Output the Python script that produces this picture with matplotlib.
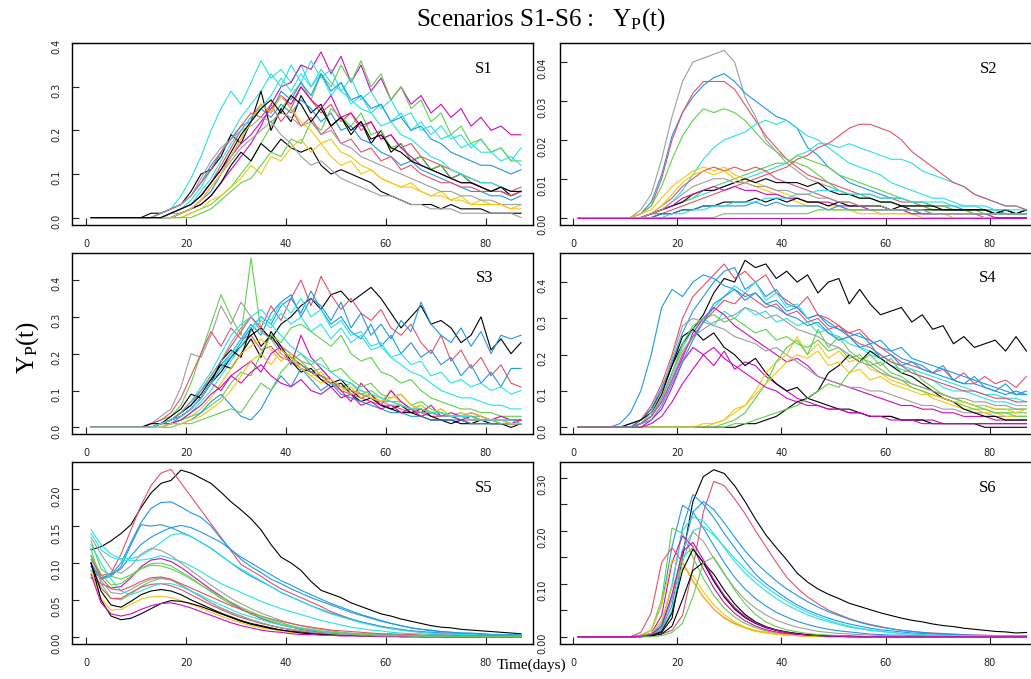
import numpy as np
import matplotlib
matplotlib.use("Agg")
import matplotlib.pyplot as plt

# R default palette, keyed by short codes
PALETTE = {'k': '#000000', 'r': '#DF536B', 'g': '#61D04F', 'b': '#2297E6',
           'c': '#28E2E5', 'm': '#CD0BBC', 'y': '#F5C710', 'a': '#9E9E9E'}

DAYS = np.arange(1, 88, 2)  # every other day, 1..87
X_TICKS = [0, 20, 40, 60, 80]

# ---- S1 (units of 0.01) ----
S1_UNIT = 0.01
S1_COLORS = ['c', 'm', 'g', 'c', 'k', 'k', 'a', 'r', 'b', 'y', 'g', 'm', 'b', 'r', 'a', 'c', 'y', 'k']
S1_VALUES = [
    [0,0,0,0,0,0, 0,1,2,5,9,14,20,25,29,26, 31,36,32,34,31,35,30,33,28,31, 26,28,24,26,22,24,20,22,19,21, 18,19,16,18,15,16,13,16],
    [0,0,0,0,0,0, 0,0,0,1,2,3,5,8,11,14, 17,21,26,30,31,35,34,38,33,37, 31,35,29,32,27,30,26,28,24,26, 23,25,21,23,20,21,19,19],
    [0,0,0,0,0,0, 0,0,0,0,1,2,3,5,7,10, 13,17,21,25,28,31,27,33,30,35, 31,36,30,33,27,30,25,27,22,24, 19,21,17,18,15,16,13,13],
    [0,0,0,0,0,0, 0,0,1,2,4,7,11,15,19,23, 26,29,33,30,35,31,36,32,34,29, 32,27,29,25,27,23,24,20,21,18, 19,16,17,15,15,13,14,12],
    [0,0,0,0,0,0, 1,1,2,3,6,10,11,14,19,17, 22,29,20,25,22,28,24,26,21,23, 19,22,17,20,15,17,13,14,11,12, 9,10,8,7,6,7,5,6],
    [0,0,0,0,0,0, 0,0,0,1,2,3,5,8,12,15, 13,17,15,18,16,15,16,12,10,11, 10,9,8,6,5,4,3,3,3,2, 3,2,2,2,1,1,1,1],
    [0,0,0,0,0,0, 0,0,1,1,2,4,7,10,13,16, 18,20,22,19,17,14,12,13,11,9, 8,7,6,5,5,4,3,3,2,2, 2,1,1,1,1,1,1,0],
    [0,0,0,0,0,0, 0,0,1,2,3,5,8,12,16,20, 23,26,24,28,25,30,27,24,26,22, 24,20,22,18,19,16,17,14,13,12, 11,10,9,8,8,7,6,7],
    [0,0,0,0,0,0, 0,1,2,3,5,8,12,15,18,21, 22,25,23,26,24,27,25,22,24,20, 21,18,17,15,14,12,13,11,10,9, 8,7,6,6,5,5,4,5],
    [0,0,0,0,0,0, 0,0,0,0,1,2,4,5,7,9, 12,10,14,13,16,18,15,17,14,12, 13,10,11,9,8,7,8,6,5,6, 4,5,3,4,3,3,2,3],
    [0,0,0,0,0,0, 0,0,0,0,0,1,2,4,6,8, 9,12,15,14,18,17,22,20,25,23, 21,24,19,20,16,17,13,14,11,12, 9,10,8,7,6,6,5,6],
    [0,0,0,0,0,0, 0,0,1,2,3,5,8,11,14,17, 19,22,25,28,26,30,27,25,28,23, 24,21,22,18,19,16,14,12,11,10, 9,8,8,7,6,6,5,6],
    [0,0,0,0,0,0, 0,0,0,1,2,4,6,10,14,18, 22,26,24,29,27,31,28,33,29,31, 27,28,25,26,22,23,20,21,18,17, 15,14,13,12,12,11,10,11],
    [0,0,0,0,0,0, 0,1,2,3,5,8,11,15,18,21, 24,23,26,22,25,21,23,19,21,17, 18,15,16,13,14,11,12,10,9,8, 8,7,7,6,6,6,5,6],
    [0,0,0,0,0,0, 0,1,2,3,5,9,13,16,18,20, 21,23,22,24,23,21,22,19,20,17, 16,14,13,12,11,10,9,8,7,6, 6,5,5,4,4,3,3,3],
    [0,0,0,0,0,0, 0,0,1,2,3,6,9,13,17,20, 23,25,28,32,29,33,30,34,31,29, 27,25,24,21,22,19,18,16,14,13, 11,10,9,8,8,7,6,6],
    [0,0,0,0,0,0, 0,0,0,1,2,4,7,10,14,18, 22,26,24,28,25,22,20,17,18,15, 14,12,11,9,8,7,7,6,5,5, 4,4,3,3,3,3,2,2],
    [0,0,0,0,0,0, 0,0,1,2,3,5,8,11,15,19, 22,25,27,24,28,26,22,25,21,23, 20,22,18,19,16,15,13,12,11,10, 9,8,8,7,6,7,6,6],
]

# ---- S2 (units of 0.001) ----
S2_UNIT = 0.001
S2_COLORS = ['a', 'b', 'r', 'g', 'c', 'c', 'r', 'g', 'y', 'r', 'k', 'y', 'm', 'k', 'b', 'c', 'g', 'a', 'm']
S2_VALUES = [
    [0,0,0,0,0,0, 2,6,15,26,35,40,41,42,43,40, 31,26,20,17,14,12,10,9,8,7, 6,6,5,4,4,3,3,3,2,2, 2,2,1,1,1,1,1,1],
    [0,0,0,0,0,0, 1,4,11,21,27,31,34,36,37,35, 32,30,28,26,25,23,18,16,13,11, 9,8,7,6,5,5,4,4,3,3, 3,2,2,2,2,1,1,1],
    [0,0,0,0,0,0, 1,3,10,20,27,32,35,35,35,33, 29,25,21,18,15,13,11,10,9,8, 7,6,6,5,5,4,4,3,3,3, 2,2,2,2,1,1,1,1],
    [0,0,0,0,0,0, 1,3,8,15,21,25,28,27,28,27, 25,22,19,17,15,14,13,11,9,7, 6,5,5,4,4,3,3,3,2,2, 2,2,1,1,1,1,1,1],
    [0,0,0,0,0,0, 0,1,2,4,7,11,15,18,20,21, 22,24,25,24,25,23,21,20,18,16, 14,13,12,11,9,8,7,6,5,5, 4,3,3,2,2,2,1,1],
    [0,0,0,0,0,0, 0,1,2,3,4,5,6,7,8,9, 10,11,12,13,14,16,17,19,19,18, 19,18,17,16,15,15,14,12,11,10, 9,8,6,5,4,3,3,2],
    [0,0,0,0,0,0, 0,1,1,2,3,4,5,6,7,8, 9,10,11,12,13,15,16,18,19,21, 23,24,24,23,22,20,17,15,13,11, 9,8,6,5,4,3,3,2],
    [0,0,0,0,0,0, 0,1,2,3,4,5,7,8,9,10, 11,12,13,14,14,16,15,14,13,11, 10,9,8,7,6,5,4,4,3,3, 2,2,2,1,1,1,1,1],
    [0,0,0,0,0,0, 1,2,5,8,10,12,13,12,13,11, 10,9,8,7,6,5,4,4,3,3, 2,2,2,1,1,1,1,1,1,1, 0,0,0,0,0,0,0,0],
    [0,0,0,0,0,0, 0,1,3,5,8,10,12,13,12,13, 12,13,12,10,9,8,7,6,5,4, 4,3,3,3,2,2,2,1,1,1, 1,1,1,0,0,0,0,0],
    [0,0,0,0,0,0, 0,1,2,3,4,6,7,7,8,9, 10,9,10,9,9,9,8,9,7,6, 6,5,5,4,4,3,3,3,3,2, 2,2,2,2,1,2,1,2],
    [0,0,0,0,0,0, 0,1,3,6,9,11,12,11,12,10, 9,8,7,6,5,4,3,3,2,2, 2,1,1,1,1,1,1,0,0,0, 0,0,0,0,0,0,0,0],
    [0,0,0,0,0,0, 0,1,2,3,5,6,7,8,7,8, 7,7,6,6,5,5,4,4,4,3, 3,3,2,2,2,2,1,1,1,1, 1,1,1,1,0,0,0,0],
    [0,0,0,0,0,0, 0,0,1,1,2,2,3,3,4,4, 4,5,4,5,4,5,4,4,3,4, 3,3,3,3,2,3,2,2,2,2, 2,2,2,2,1,2,1,2],
    [0,0,0,0,0,0, 0,0,1,1,2,2,3,3,3,3, 3,4,3,4,3,3,3,3,2,3, 2,2,2,2,2,2,2,1,1,1, 1,1,1,1,1,1,1,1],
    [0,0,0,0,0,0, 0,0,0,1,1,2,2,3,3,4, 4,4,5,5,5,6,6,7,7,7, 6,6,6,5,5,5,4,4,4,4, 3,3,3,3,2,2,2,2],
    [0,0,0,0,0,0, 0,0,0,0,0,0,0,0,1,1, 1,1,1,1,1,1,1,2,2,2, 2,2,2,2,2,2,2,2,1,1, 1,1,1,1,1,1,1,1],
    [0,0,0,0,0,0, 0,1,2,4,6,8,9,10,10,9, 9,8,8,7,7,6,6,5,5,4, 4,3,3,3,2,2,2,2,1,1, 1,1,1,1,1,1,1,1],
    [0,0,0,0,0,0, 0,0,0,0,0,0,0,0,0,0, 0,0,0,0,0,0,0,0,0,0, 0,0,0,0,0,0,0,0,0,0, 0,0,0,0,0,0,0,0],
]

# ---- S3 (units of 0.01) ----
S3_UNIT = 0.01
S3_COLORS = ['g', 'a', 'r', 'k', 'r', 'b', 'b', 'c', 'c', 'k', 'k', 'y', 'g', 'm', 'b', 'g', 'm', 'a', 'y', 'c']
S3_VALUES = [
    [0,0,0,0,0,0, 1,2,3,6,12,20,28,36,30,25, 46,26,24,22,20,18,15,16,13,11, 12,9,10,8,7,7,5,6,4,4, 3,4,3,3,2,2,2,2],
    [0,0,0,0,0,0, 1,3,5,11,20,19,25,33,28,34, 30,27,24,22,20,18,17,14,13,11, 10,9,8,7,7,6,5,5,4,4, 3,3,3,2,2,2,2,1],
    [0,0,0,0,0,0, 1,2,4,8,14,20,26,22,27,24, 25,21,22,19,18,16,15,13,12,10, 9,8,7,6,6,5,4,4,3,3, 3,2,2,2,2,1,1,1],
    [0,0,0,0,0,0, 0,1,2,3,5,8,12,15,19,22, 25,27,24,28,30,33,35,32,36,37, 34,36,38,35,31,27,30,33,28,29, 27,23,25,30,21,24,20,23],
    [0,0,0,0,0,0, 0,1,2,4,7,10,14,18,22,26, 30,27,33,29,35,40,33,41,36,32, 35,31,29,32,27,25,28,23,20,25, 18,21,16,19,14,17,12,11],
    [0,0,0,0,0,0, 0,1,2,4,6,10,13,17,20,24, 28,25,31,34,36,30,35,33,29,34, 27,31,25,28,24,29,26,34,28,25, 23,27,22,26,20,25,24,25],
    [0,0,0,0,0,0, 0,0,1,3,5,8,12,16,19,23, 27,30,28,33,35,31,37,32,28,30, 26,24,28,22,25,20,23,19,21,17, 19,14,17,12,15,11,16,16],
    [0,0,0,0,0,0, 0,1,2,4,7,11,15,20,25,28, 30,32,29,34,31,35,30,32,27,29, 25,26,22,23,19,17,15,14,12,10, 9,8,8,7,6,6,5,5],
    [0,0,0,0,0,0, 0,0,1,2,4,7,10,14,18,22, 26,29,27,31,28,30,26,28,24,27, 23,25,21,22,19,20,17,18,14,15, 12,13,11,12,10,11,9,10],
    [0,0,0,0,0,0, 1,1,3,5,9,8,12,18,21,19, 27,22,25,21,19,17,15,14,12,13, 10,8,9,6,5,6,4,5,3,2, 2,1,1,2,1,1,1,1],
    [0,0,0,0,0,0, 0,1,2,4,6,9,13,17,16,20, 24,19,26,22,18,15,16,13,11,12, 9,7,8,6,5,4,4,3,2,2, 1,2,1,1,1,1,0,1],
    [0,0,0,0,0,0, 0,1,1,2,3,5,8,12,16,20, 22,24,21,18,20,16,14,15,12,10, 11,8,9,7,10,6,5,6,4,5, 3,4,3,2,2,3,2,2],
    [0,0,0,0,0,0, 0,0,1,2,3,4,6,8,12,15, 14,20,25,23,27,28,26,24,22,25, 20,18,19,15,14,12,13,10,8,7, 6,5,5,4,4,3,3,3],
    [0,0,0,0,0,0, 0,1,2,3,5,8,12,10,14,16, 18,15,20,22,17,25,19,16,13,10, 7,12,9,6,10,7,5,4,6,3, 4,3,4,3,2,3,2,2],
    [0,0,0,0,0,0, 0,0,1,1,2,4,7,9,6,3, 2,5,10,14,11,16,13,10,12,9, 8,7,6,5,4,4,3,3,2,2, 2,2,1,1,1,1,1,1],
    [0,0,0,0,0,0, 0,0,0,1,1,2,3,4,5,4, 8,12,10,15,18,20,17,19,15,16, 13,11,12,9,8,9,6,7,5,4, 3,3,2,2,2,1,1,1],
    [0,0,0,0,0,0, 0,1,1,2,4,6,9,11,14,12, 15,17,14,12,11,13,10,9,11,8, 9,6,7,5,6,4,5,3,4,3, 3,2,3,2,2,2,1,2],
    [0,0,0,0,0,0, 0,1,2,4,7,10,14,18,23,27, 30,26,24,20,18,17,15,14,12,11, 10,9,8,7,6,6,5,4,4,3, 3,3,2,2,2,2,1,1],
    [0,0,0,0,0,0, 0,0,1,1,2,3,5,7,10,14, 18,20,17,21,19,16,14,12,13,11, 9,10,8,7,8,9,6,5,4,5, 3,3,4,3,2,2,1,1],
    [0,0,0,0,0,0, 0,1,2,3,5,8,12,16,20,24, 27,30,28,25,22,20,18,17,15,13, 12,10,9,8,7,6,5,5,4,4, 3,3,3,2,2,2,2,1],
]

# ---- S4 (units of 0.01) ----
S4_UNIT = 0.01
S4_COLORS = ['k', 'b', 'r', 'b', 'c', 'c', 'm', 'm', 'k', 'a', 'g', 'y', 'g', 'k', 'g', 'a', 'y', 'm', 'r', 'b']
S4_VALUES = [
    [0,0,0,0,0,0, 2,5,10,17,23,27,31,37,41,40, 46,44,45,41,43,40,42,37,40,41, 34,38,34,31,32,33,29,31,27,28, 23,25,22,23,24,21,25,21],
    [0,0,0,0,1,4, 10,20,33,38,36,40,42,41,39,38, 36,37,34,35,32,33,30,31,29,27, 26,25,24,22,21,19,18,17,15,14, 13,12,12,11,10,9,10,9],
    [0,0,0,0,0,0, 2,6,12,20,30,36,39,42,45,41, 43,40,42,37,35,33,36,31,30,28, 26,27,24,22,20,18,17,16,15,16, 13,15,12,14,12,13,11,14],
    [0,0,0,0,0,1, 2,5,11,18,26,32,36,40,43,44, 38,40,36,38,34,33,30,31,28,27, 25,26,23,24,21,22,19,18,17,16, 15,14,13,12,11,10,9,9],
    [0,0,0,0,0,0, 1,3,8,15,22,27,30,28,32,30, 33,31,32,29,30,28,29,26,27,24, 25,22,21,20,18,17,16,15,14,13, 12,11,10,9,9,8,8,7],
    [0,0,0,0,0,1, 2,4,8,14,20,25,29,33,36,39, 37,40,35,37,33,34,30,28,26,25, 23,22,20,19,17,16,15,14,13,11, 10,10,9,8,7,7,6,6],
    [0,0,0,0,0,0, 1,3,7,13,19,26,30,33,31,28, 26,24,22,20,18,19,17,14,13,12, 11,10,9,8,7,6,6,5,5,4, 4,3,3,3,2,2,2,2],
    [0,0,0,0,0,0, 0,2,5,11,18,22,20,17,21,16, 18,17,14,12,10,8,7,6,5,5, 4,4,3,3,3,2,2,2,2,1, 1,1,1,1,1,1,1,1],
    [0,0,0,0,0,1, 2,4,9,17,25,27,24,26,22,20, 17,19,15,12,10,11,8,7,6,5, 5,4,3,3,3,2,2,2,1,1, 1,1,1,0,0,0,0,0],
    [0,0,0,0,0,0, 1,4,10,19,28,30,29,28,27,25, 24,23,21,22,20,18,16,14,13,12, 11,11,10,10,9,8,7,6,6,5, 5,4,4,4,3,3,3,3],
    [0,0,0,0,0,0, 1,3,8,15,23,28,30,31,29,30, 28,26,27,24,25,23,22,24,21,22, 19,20,17,18,15,14,12,11,10,9, 8,7,6,6,5,5,5,5],
    [0,0,0,0,0,0, 0,0,0,0,0,0,0,1,2,5, 6,10,15,18,20,25,20,23,19,21, 18,19,16,15,13,12,11,10,8,7, 6,5,5,4,4,3,3,3],
    [0,0,0,0,0,0, 0,0,0,0,0,0,0,0,1,2, 4,8,12,18,22,24,20,27,22,25, 21,19,18,16,14,13,11,10,9,8, 7,6,5,5,4,4,4,4],
    [0,0,0,0,0,0, 0,0,0,0,0,0,0,0,0,0, 1,1,2,3,5,7,8,10,15,17, 20,18,21,19,17,15,14,12,10,8, 7,5,4,3,3,2,2,2],
    [0,0,0,0,0,0, 0,0,0,0,0,0,0,0,0,1, 1,2,3,4,5,6,8,10,12,11, 15,18,20,17,19,15,16,13,11,9, 8,7,6,5,4,4,3,3],
    [0,0,0,0,0,0, 1,3,8,15,21,25,27,29,30,31, 33,32,30,31,29,27,26,25,23,22, 20,18,17,15,14,13,12,11,10,9, 8,8,7,7,6,6,5,5],
    [0,0,0,0,0,0, 0,0,0,0,0,0,1,1,2,4, 6,9,12,15,18,20,19,21,17,18, 15,16,13,14,12,11,10,9,9,8, 7,7,6,6,5,5,4,5],
    [0,0,0,0,0,0, 0,1,3,7,12,16,20,22,19,17, 15,13,11,10,8,7,6,6,5,5, 4,4,3,3,2,2,2,1,1,1, 1,1,1,1,1,1,1,1],
    [0,0,0,0,0,0, 1,3,7,13,20,25,29,32,35,34, 37,35,33,34,31,32,29,30,27,28, 25,23,22,20,18,17,15,14,13,12, 11,10,10,9,8,8,7,7],
    [0,0,0,0,0,0, 1,2,6,12,18,24,29,34,36,38, 35,37,34,33,31,30,28,29,26,24, 25,22,23,19,20,17,18,16,15,17, 13,12,14,11,10,12,9,10],
]

# ---- S5 (units of 0.001); None = day not recorded ----
S5_UNIT = 0.001
S5_COLORS = ['k', 'r', 'b', 'b', 'b', 'c', 'c', 'a', 'm', 'g', 'g', 'r', 'k', 'y', 'k', 'm', 'a', 'c', 'r', 'g']
S5_VALUES = [
    [118,122,130,140,152,175,195,208,212,226, 222,215,208,196,183,172,160,145,125,108, 100,90,75,63,58,53,46,41,36,31, 28,24,21,18,15,13,12,10,9,8, 7,6,5,4],
    [105,83,86,112,145,178,205,222,227,None,None,None,None,None,None,98, 90,82,73,65,59,53,47,41,34,29, 24,20,17,14,11,9,8,6,5,5, 4,3,3,2,2,2,2,1],
    [90,80,84,100,128,155,174,182,183,176, 168,162,150,133,118,105,95,87,78,72, 65,59,53,48,43,38,33,29,25,21, 18,15,12,10,9,7,6,5,5,4, 3,3,2,2],
    [100,78,82,95,125,152,150,152,148,142, 136,128,120,110,100,90,82,75,68,60, 54,48,42,37,32,28,24,20,17,14, 12,10,8,7,6,5,4,4,3,3, 2,2,2,1],
    [95,80,84,92,110,125,135,142,148,151, 148,142,135,128,118,108,100,92,84,76, 70,63,57,51,45,40,35,30,26,22, 18,15,12,10,8,7,6,5,4,4, 3,3,3,3],
    [145,125,112,106,106,110,118,128,138,140, 136,128,120,110,100,92,84,76,68,60, 54,48,42,36,31,27,23,19,16,13, 11,9,7,6,5,4,4,3,3,2, 2,2,2,2],
    [140,118,108,104,103,104,106,110,106,102, 96,88,80,72,66,60,54,48,43,38, 34,30,26,22,19,16,13,11,9,8, 6,5,4,4,3,3,2,2,2,1, 1,1,1,1],
    [135,112,92,86,96,112,120,117,110,100, 90,80,70,61,52,45,38,32,27,22, 18,15,12,10,8,6,5,4,4,3, 3,2,2,2,1,1,1,1,1,1, 1,0,0,0],
    [80,72,66,68,80,95,104,106,102,94, 84,74,64,55,46,38,31,25,20,16, 13,10,8,6,5,4,3,3,2,2, 2,1,1,1,1,1,1,0,0,0, 0,0,0,0],
    [130,92,82,78,84,93,99,100,96,88, 80,70,61,52,44,37,31,26,21,17, 14,11,9,7,6,5,4,3,3,2, 2,2,1,1,1,1,0,0,0,0, 0,0,0,0],
    [120,72,52,50,58,68,75,79,77,70, 62,54,46,39,33,28,23,19,15,12, 10,8,6,5,4,3,3,2,2,2, 1,1,1,1,1,0,0,0,0,0, 0,0,0,0],
    [100,66,52,52,60,67,71,72,69,64, 57,50,43,37,31,26,22,18,15,12, 9,7,6,5,4,3,3,2,2,2, 1,1,1,1,1,0,0,0,0,0, 0,0,0,0],
    [100,62,43,40,48,57,62,64,62,57, 50,44,38,32,27,22,18,15,12,9, 7,6,5,4,3,2,2,2,1,1, 1,1,1,0,0,0,0,0,0,0, 0,0,0,0],
    [90,52,36,37,44,51,54,55,53,49, 44,39,33,28,23,19,15,12,10,8, 6,5,4,3,2,2,2,1,1,1, 1,0,0,0,0,0,0,0,0,0, 0,0,0,0],
    [100,50,28,23,25,31,38,45,49,48, 45,41,36,31,26,21,17,14,11,9, 7,5,4,3,3,2,2,1,1,1, 1,0,0,0,0,0,0,0,0,0, 0,0,0,0],
    [85,46,31,28,31,37,42,45,46,43, 39,34,29,24,19,15,12,9,7,6, 4,3,3,2,2,1,1,1,1,0, 0,0,0,0,0,0,0,0,0,0, 0,0,0,0],
    [110,76,60,58,64,72,78,80,77,70, 62,54,46,39,33,28,23,19,15,12, 10,8,6,5,4,3,3,2,2,1, 1,1,1,1,0,0,0,0,0,0, 0,0,0,0],
    [125,100,78,62,57,62,68,72,72,68, 62,56,49,43,37,31,27,23,19,16, 13,11,9,7,6,5,4,3,3,2, 2,2,1,1,1,1,1,1,1,0, 0,0,0,0],
    [110,80,65,63,68,75,80,81,78,72, 66,60,54,48,42,37,32,28,24,21, 18,15,13,11,9,8,7,6,5,4, 4,3,3,2,2,2,2,1,1,1, 1,1,1,1],
    [110,85,70,72,82,92,97,96,92,86, 78,70,62,54,47,40,34,28,23,19, 15,12,10,8,6,5,4,3,3,2, 2,2,1,1,1,1,1,0,0,0, 0,0,0,0],
]

# ---- S6 (units of 0.001) ----
S6_UNIT = 0.001
S6_COLORS = ['k', 'r', 'b', 'b', 'b', 'c', 'c', 'g', 'm', 'r', 'y', 'y', 'g', 'a', 'k', 'k', 'g', 'm']
S6_VALUES = [
    [0,0,0,0,0,0, 1,3,8,35,150,255,302,315,308,285, 255,222,192,168,145,120,103,90,80,72, 63,57,51,45,40,35,31,28,24,21, 19,16,14,12,10,9,7,8],
    [0,0,0,0,0,0, 0,2,5,12,40,130,235,293,285,260, 232,200,170,140,112,92,75,62,50,42, 34,28,23,19,15,12,10,8,7,6, 5,4,3,3,2,2,2,2],
    [0,0,0,0,0,0, 2,6,25,95,205,268,250,225,195,168, 142,118,100,86,72,60,50,42,35,29, 24,20,16,13,11,9,7,6,5,4, 3,3,2,2,2,1,1,1],
    [0,0,0,0,0,0, 1,4,15,60,160,235,255,240,215,188, 162,140,122,105,90,78,66,56,47,40, 33,27,22,18,15,12,10,8,6,5, 4,3,3,2,2,2,1,1],
    [0,0,0,0,0,0, 3,12,60,170,248,235,205,172,140,112, 90,72,58,46,37,29,23,18,14,11, 9,7,5,4,3,3,2,2,1,1, 1,1,1,1,0,0,0,0],
    [0,0,0,0,0,0, 1,5,25,100,200,226,218,195,168,142, 120,102,86,72,60,50,41,34,28,23, 18,15,12,10,8,6,5,4,3,3, 2,2,2,1,1,1,1,1],
    [0,0,0,0,0,0, 1,3,12,50,140,200,208,192,170,148, 128,110,94,80,67,56,46,38,31,25, 20,16,13,10,8,6,5,4,3,2, 2,2,1,1,1,1,1,1],
    [0,0,0,0,0,0, 2,12,70,205,195,150,110,78,54,37, 25,17,11,7,5,3,2,1,1,1, 0,0,0,0,0,0,0,0,0,0, 0,0,0,0,0,0,0,0],
    [0,0,0,0,0,0, 1,6,40,140,190,170,128,92,64,44, 30,20,13,9,6,4,3,2,1,1, 1,0,0,0,0,0,0,0,0,0, 0,0,0,0,0,0,0,0],
    [0,0,0,0,0,0, 8,45,140,168,140,105,75,52,36,25, 17,11,8,5,3,2,1,1,0,0, 0,0,0,0,0,0,0,0,0,0, 0,0,0,0,0,0,0,0],
    [0,0,0,0,0,0, 2,12,60,145,140,105,75,52,35,24, 16,10,7,4,3,2,1,1,0,0, 0,0,0,0,0,0,0,0,0,0, 0,0,0,0,0,0,0,0],
    [0,0,0,0,0,0, 1,6,30,95,130,115,85,60,42,28, 18,12,8,5,3,2,1,1,0,0, 0,0,0,0,0,0,0,0,0,0, 0,0,0,0,0,0,0,0],
    [0,0,0,0,0,0, 1,4,20,75,150,168,140,105,76,54, 38,26,18,12,8,6,4,3,2,1, 1,1,0,0,0,0,0,0,0,0, 0,0,0,0,0,0,0,0],
    [0,0,0,0,0,0, 1,4,18,70,165,198,180,148,118,92, 70,54,41,31,24,18,14,10,8,6, 5,4,3,2,2,1,1,1,1,0, 0,0,0,0,0,0,0,0],
    [0,0,0,0,0,0, 0,2,10,45,125,165,140,105,75,52, 36,25,17,12,8,5,3,2,1,1, 0,0,0,0,0,0,0,0,0,0, 0,0,0,0,0,0,0,0],
    [0,0,0,0,0,0, 0,1,5,20,70,125,140,118,88,62, 42,28,19,13,9,6,4,3,2,1, 1,0,0,0,0,0,0,0,0,0, 0,0,0,0,0,0,0,0],
    [0,0,0,0,0,0, 0,0,2,8,25,75,140,150,120,88, 62,42,28,19,13,9,6,4,3,2, 1,1,0,0,0,0,0,0,0,0, 0,0,0,0,0,0,0,0],
    [0,0,0,0,0,0, 1,4,20,80,160,178,145,108,78,55, 38,26,18,12,8,5,3,2,1,1, 0,0,0,0,0,0,0,0,0,0, 0,0,0,0,0,0,0,0],
]

S1_YTICKS = [0.0, 0.1, 0.2, 0.3, 0.4]
S1_YLABELS = ['0.0', '0.1', '0.2', '0.3', '0.4']
S2_YTICKS = [0.0, 0.01, 0.02, 0.03, 0.04]
S2_YLABELS = ['0.00', '0.01', '0.02', '0.03', '0.04']
S5_YTICKS = [0.0, 0.05, 0.10, 0.15, 0.20]
S5_YLABELS = ['0.00', '0.05', '0.10', '0.15', '0.20']
S6_YTICKS = [0.0, 0.05, 0.10, 0.15, 0.20, 0.25, 0.30]
S6_YLABELS = ['0.00', '', '0.10', '', '0.20', '', '0.30']

plt.rcParams['font.family'] = 'DejaVu Sans'
SERIF = 'Liberation Serif'

fig = plt.figure(figsize=(10.31, 6.79), dpi=100)

W, H = 1031.0, 679.0
ROWS = [(43, 225), (252.7, 434), (462.3, 644)]   # top / bottom edges in px
COLS = [(72, 461, (-2.8, 89.4), 8), (560, 480, (-2.5, 89.6), 9)]

panels = [
    ('S1', S1_VALUES, S1_COLORS, S1_UNIT, (-0.017, 0.4005), S1_YTICKS, S1_YLABELS),
    ('S2', S2_VALUES, S2_COLORS, S2_UNIT, (-0.0019, 0.0449), S2_YTICKS, S2_YLABELS),
    ('S3', S3_VALUES, S3_COLORS, S3_UNIT, (-0.018, 0.474), S1_YTICKS, S1_YLABELS),
    ('S4', S4_VALUES, S4_COLORS, S4_UNIT, (-0.0185, 0.481), S1_YTICKS, S1_YLABELS),
    ('S5', S5_VALUES, S5_COLORS, S5_UNIT, (-0.0099, 0.2366), S5_YTICKS, S5_YLABELS),
    ('S6', S6_VALUES, S6_COLORS, S6_UNIT, (-0.0138, 0.329), S6_YTICKS, S6_YLABELS),
]

for i, (name, values, colors, unit, ylim, yticks, ylabels) in enumerate(panels):
    top, bot = ROWS[i // 2]
    x0, wpx, xlim, ypad = COLS[i % 2]
    ax = fig.add_axes([x0 / W, 1 - bot / H, wpx / W, (bot - top) / H])
    for j, (code, vals) in enumerate(zip(colors, values)):
        assert len(vals) == len(DAYS), (name, j, len(vals))
        y = np.array([np.nan if v is None else v for v in vals], dtype=float) * unit
        ok = ~np.isnan(y)
        ax.plot(DAYS[ok], y[ok], color=PALETTE[code], lw=0.8)
    ax.set_xlim(*xlim)
    ax.set_ylim(*ylim)
    ax.set_xticks(X_TICKS)
    ax.set_xticklabels([str(t) for t in X_TICKS])
    ax.set_yticks(yticks)
    ax.set_yticklabels(ylabels)
    ax.tick_params(direction='in', length=5, width=0.8, labelsize=7, colors='#222222')
    ax.tick_params(axis='x', pad=10)
    ax.tick_params(axis='y', pad=ypad, labelrotation=90)
    for sp in ax.spines.values():
        sp.set_linewidth(1.0)
    ax.text(0.894 if i % 2 == 0 else 0.892, 0.858, name, transform=ax.transAxes,
            ha='center', va='center', fontsize=12, fontfamily=SERIF)

fig.text(541 / W, 1 - 20 / H, r'Scenarios S1-S6 :   $\mathregular{Y_P(t)}$',
         ha='center', va='center', fontsize=18, fontfamily=SERIF)
fig.text(28 / W, 1 - 347 / H, r'$\mathregular{Y_P(t)}$', rotation=90,
         ha='center', va='center', fontsize=18, fontfamily=SERIF)
fig.text(532 / W, 1 - 665 / H, 'Time(days)', ha='center', va='center',
         fontsize=11, fontfamily=SERIF)

fig.savefig('out.png', dpi=100)
